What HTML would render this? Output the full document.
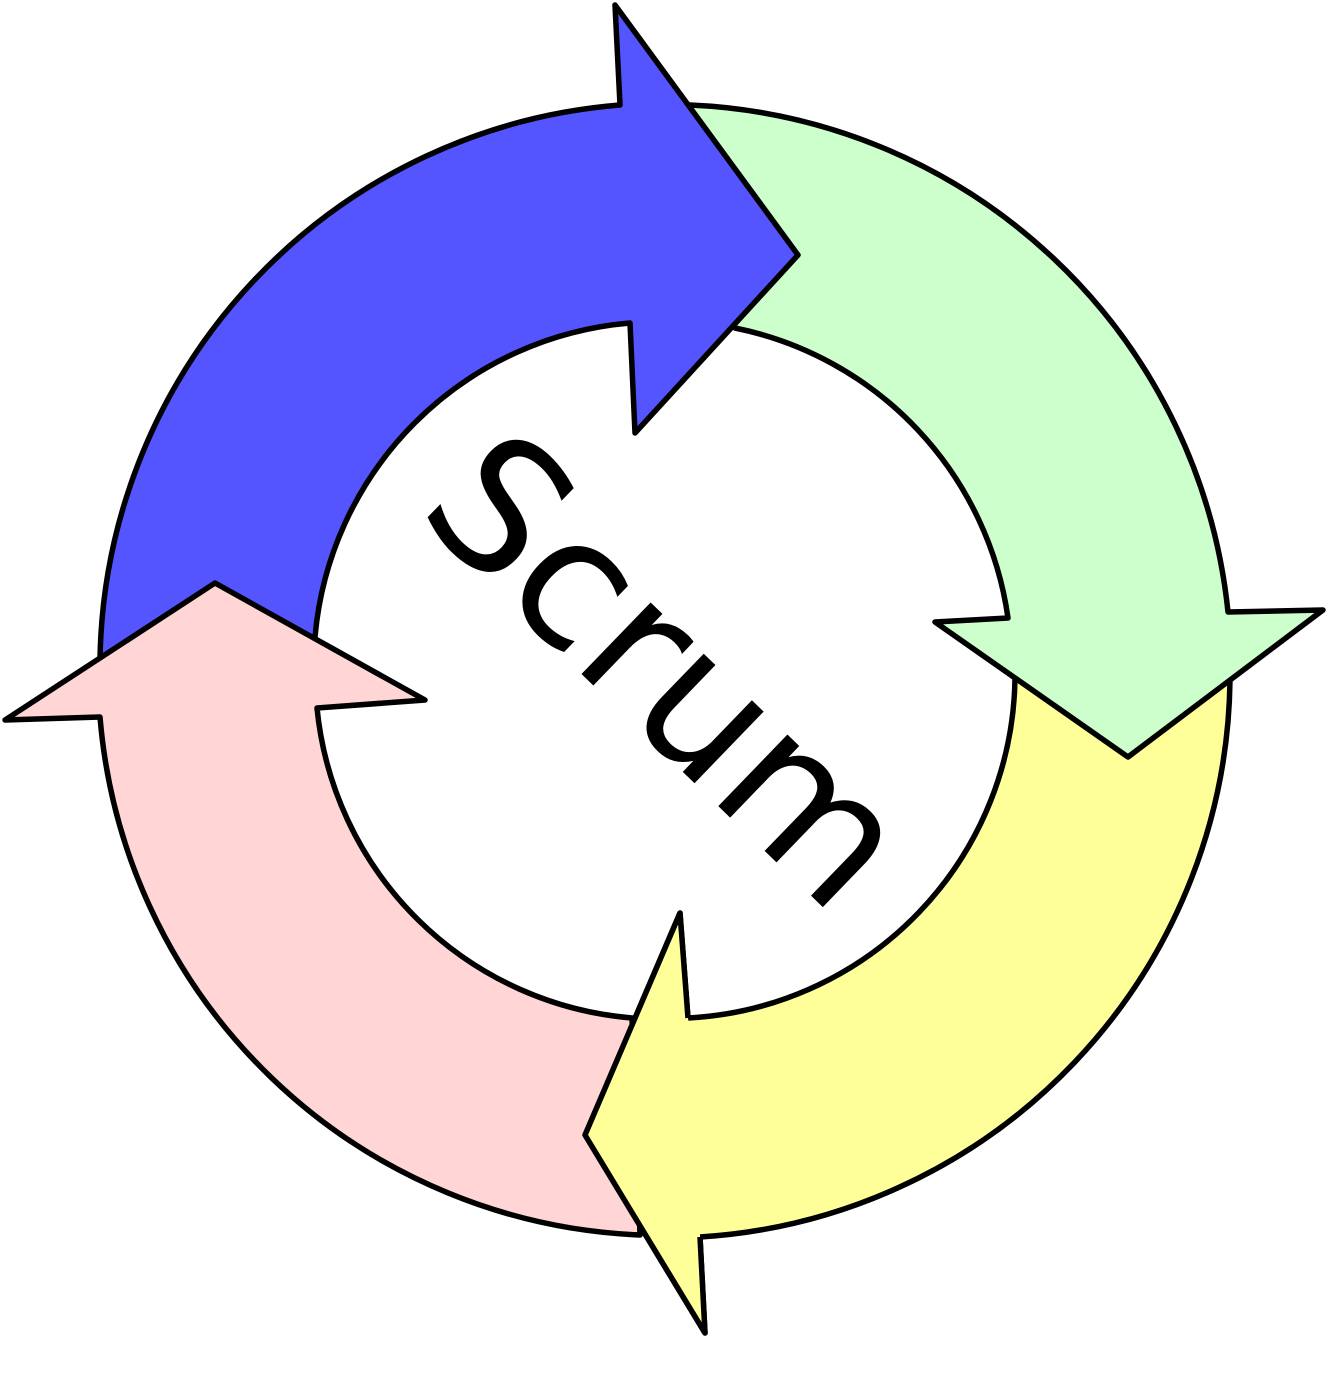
<!DOCTYPE html>
<html><head><style>html,body{margin:0;padding:0;background:#fff;}svg{display:block}</style></head>
<body>
<svg width="1326" height="1374" viewBox="0 0 1326 1374" xmlns="http://www.w3.org/2000/svg">
<g stroke="#000" stroke-width="5.5" stroke-linejoin="round">
<path fill="#ffff99" d="M1230,680 A565,565 0 0 1 700,1237 L705,1333 L585,1135 L680,913 L688,1018 A345,345 0 0 0 1015,678 Z"/>
<path fill="#ccffcc" d="M690,105 A565,565 0 0 1 1228,612 L1323,610 L1128,757 L935,622 L1008,618 A345,345 0 0 0 735,328 Z"/>
<path fill="#5555ff" d="M100,660 A565,565 0 0 1 620,105 L615,5 L798,255 L635,433 L630,323 A345,345 0 0 0 315,637 Z"/>
<path fill="#ffd5d5" d="M640,1235 A565,565 0 0 1 100,717 L5,720 L215,583 L425,700 L317,708 A345,345 0 0 0 632,1018 Z"/>
<path fill="#ffff99" stroke="none" d="M700,1237 L705,1333 L585,1135 L680,913 L688,1018 L700,1100 Z"/>
<path fill="none" d="M700,1237 L705,1333 L585,1135 L680,913 L688,1018"/>
</g>
<text x="0" y="0" transform="translate(668,670) rotate(44)" text-anchor="middle" dominant-baseline="central" font-family="DejaVu Sans, Liberation Sans, sans-serif" font-size="182">Scrum</text>
</svg>
</body></html>
